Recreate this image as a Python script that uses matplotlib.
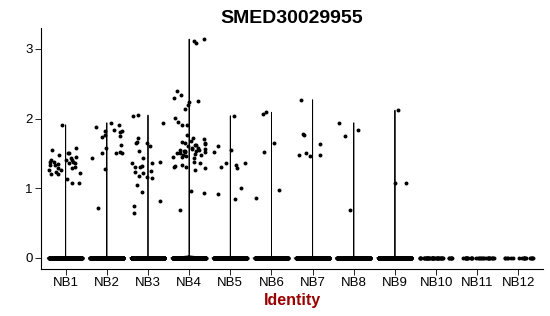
"""Seurat-style VlnPlot of SMED30029955 across NB identities."""
import numpy as np
import matplotlib
matplotlib.use("Agg")
import matplotlib.pyplot as plt

plt.rcParams.update({
    "font.family": ["Liberation Sans", "DejaVu Sans"],
    "figure.dpi": 100,
    "savefig.dpi": 100,
})

# ---- data (expression values) ----
idents = ["NB1", "NB2", "NB3", "NB4", "NB5", "NB6",
          "NB7", "NB8", "NB9", "NB10", "NB11", "NB12"]

nb1 = [1.91, 1.45, 1.41, 1.51, 1.55, 1.58, 1.51, 1.48, 1.36, 1.38, 1.33,
       1.31, 1.41, 1.38, 1.41, 1.38, 1.36, 1.33, 1.29, 1.29, 1.26, 1.23,
       1.26, 1.20, 1.22, 1.21, 1.13, 1.08, 1.07, 1.35, 1.44]
nb2 = [1.94, 1.91, 1.88, 1.84, 1.82, 1.81, 1.82, 1.76, 1.74, 1.75, 1.62,
       1.51, 1.52, 1.50, 1.58, 1.51, 1.43, 1.28, 0.72]
nb3 = [2.05, 1.93, 2.04, 1.65, 1.65, 1.66, 1.72, 1.61, 1.54, 1.43, 1.38,
       1.25, 1.36, 1.31, 1.36, 1.32, 1.31, 1.23, 1.22, 1.15, 1.16, 1.17,
       1.05, 0.94, 0.82, 0.75, 0.65]
nb4 = [3.14, 3.11, 3.08, 2.40, 2.30, 2.34, 2.24, 2.25, 2.19, 2.14, 2.01,
       1.95, 1.91, 1.91, 1.76, 1.72, 1.67, 1.70, 1.68, 1.65, 1.60, 1.58,
       1.57, 1.65, 1.62, 1.58, 1.55, 1.53, 1.52, 1.51, 1.48, 1.45, 1.55,
       1.52, 1.45, 1.43, 1.38, 1.34, 1.36, 1.31, 1.32, 1.31, 1.26, 1.29,
       0.96, 0.93, 0.69, 1.50, 1.47, 1.53, 1.49, 1.56, 1.46, 1.54, 1.62,
       1.64]
nb5 = [2.04, 1.55, 1.52, 1.61, 1.36, 1.29, 1.30, 1.36, 1.33, 1.00, 0.92, 0.85]
nb6 = [2.09, 2.07, 1.65, 1.52, 0.98, 0.86]
nb7 = [2.27, 1.64, 1.51, 1.46, 1.76, 1.78, 1.48, 1.48]
nb8 = [1.94, 1.75, 1.84, 0.69]
nb9 = [2.12, 1.08, 1.08]
nb10 = []
nb11 = []
nb12 = []
nonzero = [nb1, nb2, nb3, nb4, nb5, nb6, nb7, nb8, nb9, nb10, nb11, nb12]

# number of cells with zero expression per identity
zero_counts = [450, 600, 550, 500, 450, 400, 420, 400, 380, 45, 30, 18]

TITLE = "SMED30029955"
XLABEL = "Identity"

groups = [np.concatenate([np.zeros(z), np.array(v, dtype=float)])
          for z, v in zip(zero_counts, nonzero)]
positions = np.arange(1, len(idents) + 1)

fig = plt.figure(figsize=(5.5, 3.16))
ax = fig.add_axes([0.0745, 0.149, 0.913, 0.762])

# ---- violins (only where there is spread) ----
vi = [i for i, g in enumerate(groups) if np.ptp(g) > 0]
parts = ax.violinplot([groups[i] for i in vi], positions=positions[vi],
                      widths=0.9, showextrema=False, bw_method=0.01)
for b in parts["bodies"]:
    b.set_facecolor("none")
    b.set_edgecolor("black")
    b.set_linewidth(0.6)
    b.set_alpha(1)
    b.set_zorder(1)

# ---- jittered points ----
rng = np.random.default_rng(3)
for p, g in zip(positions, groups):
    xj = p + rng.uniform(-0.4, 0.4, size=g.size)
    ax.scatter(xj, g, s=8, color="black", linewidths=0, zorder=3)

ymax = max(g.max() for g in groups)
ax.set_ylim(-0.05 * ymax, ymax * 1.05)
ax.set_xlim(0.4, len(idents) + 0.6)
ax.set_xticks(positions)
ax.set_xticklabels(idents)
ax.set_yticks([0, 1, 2, 3])

for s in ("top", "right"):
    ax.spines[s].set_visible(False)
for s in ("left", "bottom"):
    ax.spines[s].set_linewidth(0.8)
ax.tick_params(axis="both", length=4, width=0.6, labelsize=9.5,
               colors="black", pad=2)

ax.set_xlabel(XLABEL, fontsize=11.5, fontweight="bold", color="#990000",
              labelpad=3)
ax.set_title(TITLE, fontsize=14, fontweight="bold", pad=4)

fig.savefig("out.png")
